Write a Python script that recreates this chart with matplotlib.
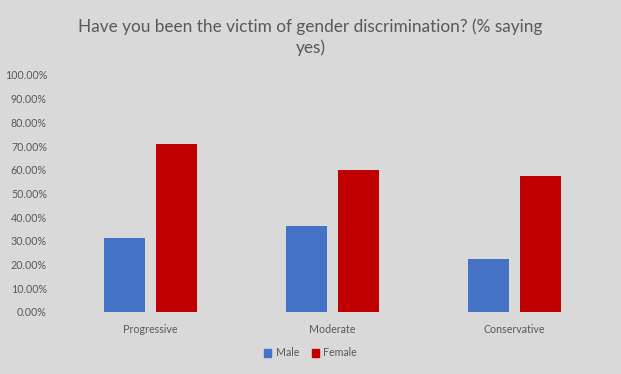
import numpy as np
import matplotlib.pyplot as plt
from matplotlib.patches import Patch
from matplotlib.ticker import PercentFormatter

# values
categories = ["Progressive", "Moderate", "Conservative"]
male = [0.313, 0.364, 0.224]
female = [0.710, 0.600, 0.575]

bg = "#d9d9d9"
text_col = "#595959"
male_col = "#4472c4"
female_col = "#c00000"

plt.rcParams['font.family'] = ['Lato', 'DejaVu Sans']

fig = plt.figure(figsize=(6.21, 3.74), dpi=100, facecolor=bg)
ax = fig.add_axes([0.0958, 0.1658, 0.8792, 0.6337], facecolor=bg)

x = np.arange(len(categories))
width = 0.225
ax.bar(x - 0.143, male, width, color=male_col, label="Male")
ax.bar(x + 0.143, female, width, color=female_col, label="Female")

ax.set_xlim(-0.5, len(categories) - 0.5)
ax.set_ylim(0, 1.0)
ax.set_yticks(np.arange(0, 1.01, 0.1))
ax.yaxis.set_major_formatter(PercentFormatter(1.0, decimals=2))
ax.set_xticks(x)
ax.set_xticklabels(categories)

for s in ax.spines.values():
    s.set_visible(False)
ax.tick_params(axis='both', length=0, colors=text_col, labelsize=7.7)
ax.tick_params(axis='y', pad=9)
ax.tick_params(axis='x', pad=9)

fig.text(0.5, 0.901, "Have you been the victim of gender discrimination? (% saying\nyes)",
         ha='center', va='center', fontsize=12.4, color=text_col, linespacing=1.3)

handles = [Patch(color=male_col, label="Male"), Patch(color=female_col, label="Female")]
fig.legend(handles=handles, loc='center', bbox_to_anchor=(0.5, 1 - 353 / 374), ncol=2,
           frameon=False, fontsize=7.7, handlelength=0.7, handleheight=0.7,
           handletextpad=0.4, columnspacing=1.2, labelcolor=text_col)

fig.savefig("out.png", dpi=100, facecolor=bg)
